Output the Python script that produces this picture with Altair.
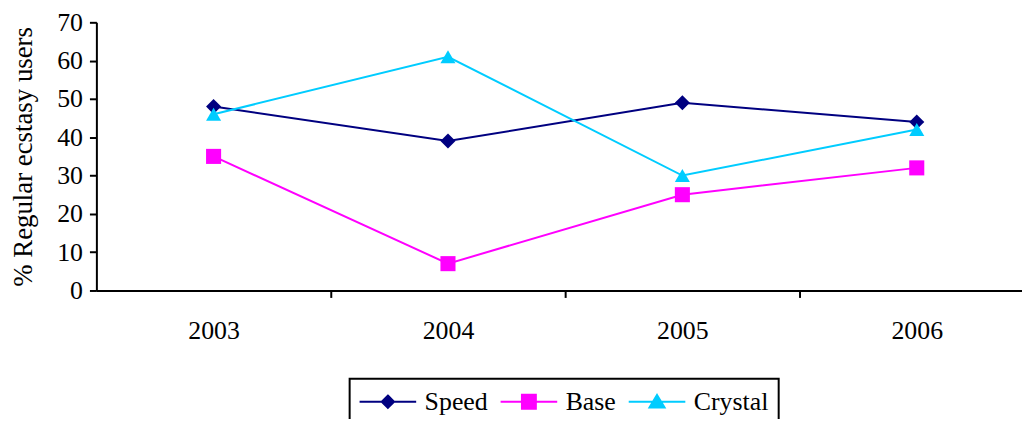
import altair as alt
import pandas as pd

years = [2003, 2004, 2005, 2006]
series = ["Speed", "Base", "Crystal"]
speed = [48, 39, 49, 44]
base = [35, 7, 25, 32]
crystal = [46, 61, 30, 42]
colors = ["#000080", "#FF00FF", "#00CCFF"]
shapes = ["diamond", "square", "triangle-up"]
legend_paths = [
    "M-2.85,0H2.85M0,-0.62L0.62,0L0,0.62L-0.62,0Z",
    "M-2.85,0H2.85M-0.7,-0.7H0.7V0.7H-0.7Z",
    "M-2.85,0H2.85M0,-0.68L0.76,0.58L-0.76,0.58Z",
]

rows = []
for s, vals, shp in zip(series, [speed, base, crystal], shapes):
    for yr, v in zip(years, vals):
        rows.append({"year": yr, "value": v, "series": s, "shape": shp})
df = pd.DataFrame(rows)

FONT = "Liberation Serif"

# per-entry colour expression for the legend symbols, built from the lists above
color_expr = " : ".join(
    f"datum.value == '{s}' ? '{c}'" for s, c in zip(series[:-1], colors[:-1])
) + f" : '{colors[-1]}'"

x = alt.X(
    "year:Q",
    scale=alt.Scale(domain=[2002.5, 2006.449], nice=False, zero=False),
    axis=alt.Axis(
        values=[2003, 2003.5, 2004, 2004.5, 2005, 2005.5, 2006],
        labelExpr="datum.value % 1 == 0 ? format(datum.value, 'd') : ''",
        tickOpacity={"condition": {"test": "datum.value % 1 == 0", "value": 0}, "value": 1},
        title=None,
        grid=False,
        labelOverlap=False,
        labelFlush=False,
        tickSize=7,
        labelPadding=20,
    ),
)
y = alt.Y(
    "value:Q",
    scale=alt.Scale(domain=[0, 70], nice=False),
    axis=alt.Axis(
        values=list(range(0, 71, 10)),
        title="% Regular ecstasy users",
        grid=False,
        tickSize=7,
        labelPadding=7,
        titlePadding=19,
    ),
)
color = alt.Color("series:N", scale=alt.Scale(domain=series, range=colors), legend=None)

lines = alt.Chart(df).mark_line(strokeWidth=2).encode(x=x, y=y, color=color)
points = alt.Chart(df).mark_point(filled=True, size=230, opacity=1).encode(
    x=x, y=y, color=color, shape=alt.Shape("shape:N", scale=None)
)

leg = alt.Legend(
    title=None,
    orient="none",
    legendX=255,
    legendY=359,
    direction="horizontal",
    symbolSize=400,
    symbolStrokeWidth=2,
    symbolOpacity=1,
    symbolFillColor=alt.ExprRef(expr=color_expr),
    symbolStrokeColor=alt.ExprRef(expr=color_expr),
    symbolOffset=15.5,
    labelOffset=24,
    columnPadding=8,
    padding=10,
    labelFont=FONT,
    labelFontSize=26,
    labelColor="black",
    strokeColor="black",
    fillColor="white",
)
legend_layer = (
    alt.Chart(df)
    .mark_point(filled=True, opacity=0)
    .encode(
        x=x,
        y=y,
        fill=alt.Fill("series:N", scale=alt.Scale(domain=series, range=colors), legend=None),
        stroke=alt.Stroke("series:N", scale=alt.Scale(domain=series, range=colors), legend=None),
        shape=alt.Shape("series:N", scale=alt.Scale(domain=series, range=legend_paths), legend=leg),
    )
)

chart = (
    alt.layer(lines, points, legend_layer)
    .resolve_scale(shape="independent")
    .properties(
        width=932,
        height=270,
        autosize=alt.AutoSizeParams(type="none"),
        padding={"left": 89, "top": 13, "right": 0, "bottom": 128},
    )
    .configure_view(stroke=None)
    .configure_axis(
        domainColor="black",
        domainWidth=2,
        tickColor="black",
        tickWidth=2,
        labelColor="black",
        labelFont=FONT,
        labelFontSize=26,
        titleFont=FONT,
        titleFontSize=27,
        titleFontWeight="normal",
        titleColor="black",
    )
    .configure_legend(strokeWidth=2)
)

chart.save("out.html", embed_options={"renderer": "svg", "actions": False})
